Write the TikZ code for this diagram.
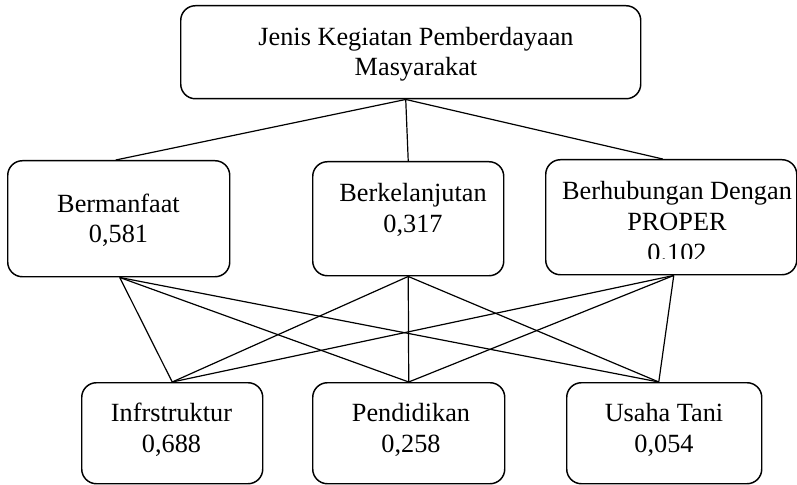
\documentclass[tikz,border=0pt]{standalone}
\usepackage{fontspec}
\setmainfont{Liberation Serif}
\begin{document}
\begin{tikzpicture}[x=0.75pt,y=-0.75pt,
  box/.style={draw, line width=1.1pt, rounded corners=11pt, inner sep=0pt, anchor=north west},
  lbl/.style={font=\fontsize{19.7}{23}\selectfont, align=center, anchor=base, inner sep=0pt},
  link/.style={line width=0.9pt}]
\useasboundingbox (0,0) rectangle (797,485);
% boxes
\node[box, minimum width=345pt, minimum height=69.75pt] (top) at (180,5) {};
\node[box, minimum width=166.5pt, minimum height=87pt] (b1) at (7,160) {};
\node[box, minimum width=143.25pt, minimum height=85.5pt] (b2) at (312,161) {};
\node[box, minimum width=188.25pt, minimum height=86.25pt] (b3) at (545,159) {};
\node[box, minimum width=135.75pt, minimum height=75.75pt] (c1) at (81,382) {};
\node[box, minimum width=144pt, minimum height=75.75pt] (c2) at (312,382) {};
\node[box, minimum width=146.25pt, minimum height=75.75pt] (c3) at (566,382) {};
% texts (anchor = baseline of the last line)
\node[lbl] (ttop) at (416,76) {Jenis Kegiatan Pemberdayaan\\Masyarakat};
\node[lbl] (tb1) at (118.5,243) {Bermanfaat\\0,581};
\node[lbl] (tb2) at (413,232) {Berkelanjutan\\0,317};
\begin{scope}
\clip (545,159) rectangle (797,258);
\node[lbl] (tb3) at (677,261) {Berhubungan Dengan\\PROPER\hspace*{15pt}\\0.102};
\end{scope}
\node[lbl] (tc1) at (171.5,452) {Infrstruktur\\0,688};
\node[lbl] (tc2) at (411,452) {Pendidikan\\0,258};
\node[lbl] (tc3) at (664,452) {Usaha Tani\\0,054};
% attach points
\coordinate (topS) at ([xshift=-3.75pt]top.south);
\coordinate (b1N) at ([xshift=-2.25pt]b1.north);
\coordinate (b1S) at ([xshift=0.75pt]b1.south);
\coordinate (b2N) at (b2.north);
\coordinate (b2S) at (b2.south);
\coordinate (b3N) at ([xshift=-6.4pt]b3.north);
\coordinate (b3S) at ([xshift=1.9pt]b3.south);
\coordinate (c1N) at (c1.north);
\coordinate (c2N) at (c2.north);
\coordinate (c3N) at ([xshift=-4.1pt]c3.north);
% connectors
\draw[link] (topS) -- (b1N);
\draw[link] (topS) -- (b2N);
\draw[link] (topS) -- (b3N);
\foreach \s in {b1S,b2S,b3S}{
  \foreach \t in {c1N,c2N,c3N}{
    \draw[link] (\s) -- (\t);
  }
}
\end{tikzpicture}
\end{document}
